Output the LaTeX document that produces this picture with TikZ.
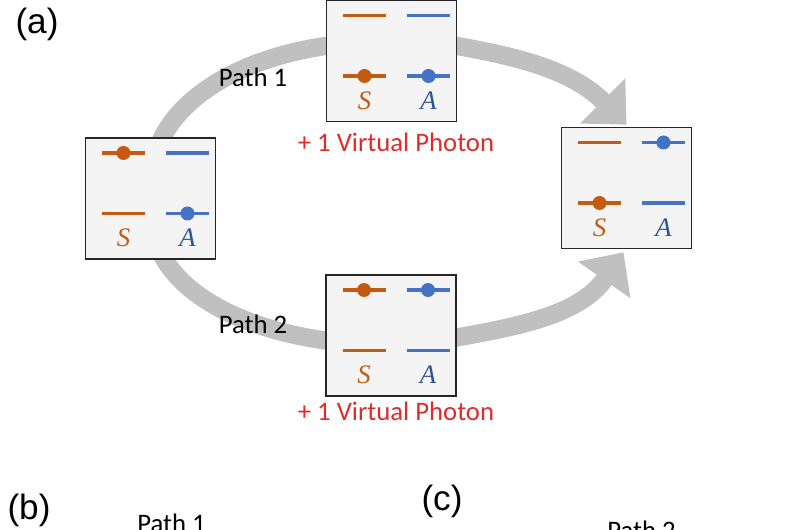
\documentclass[tikz,border=0pt]{standalone}
\usepackage{fontspec}
\setmainfont{Carlito}
\newfontfamily\panelfont{Liberation Sans}
\newfontfamily\labfont{Liberation Serif}
\usetikzlibrary{arrows.meta,calc,backgrounds,positioning}

\definecolor{orng}{HTML}{C55A11}
\definecolor{blu}{HTML}{4472C4}
\definecolor{dkblu}{HTML}{2F5597}
\definecolor{red1}{HTML}{E02B2B}
\definecolor{bandgray}{HTML}{C0C0C0}
\definecolor{boxfill}{HTML}{F4F4F4}

% two levels per qubit, dots mark the occupied ones
\newcommand{\levels}[2]{%
  \foreach \dx/\col in {-27/orng,37/blu}
    \foreach \dy in {45.5,-15}
      \draw[lvl,\col] ($(#1.center)+(\dx-21.5,\dy)$) -- ++(43,0);
  \foreach \dx/\dy/\col in {#2}
    \fill[\col] ($(#1.center)+(\dx,\dy)$) circle (7);
  \node[lbl,text=orng] (#1-S) at ($(#1.center)+(-27,-39.5)$) {S};
  \node[lbl,text=dkblu] (#1-A) at ($(#1.center)+(37,-39.5)$) {A};
}

\begin{document}
\begin{tikzpicture}[x=0.025cm, y=0.025cm,
  box/.style={draw=black!85, fill=boxfill, line width=0.9pt,
    minimum width=3.25cm, minimum height=3.03cm, inner sep=0},
  lvl/.style={line width=2.6pt},
  lbl/.style={font=\labfont\itshape\fontsize{19}{22}\selectfont, inner sep=0},
  txt/.style={font=\fontsize{19}{22}\selectfont, inner sep=0},
  photon/.style={txt, text=red1},
  panel/.style={font=\panelfont\fontsize{25}{30}\selectfont, inner sep=0},
  band/.style={draw=bandgray, line width=13pt,
    -{Triangle[length=24pt,width=44pt]}}]

\useasboundingbox (0,0) rectangle (800,-530);
\clip (0,0) rectangle (800,-530);

\node[box] (start) at (150.5,-198.5) {};
\node[box] (bothdown) at (391.5,-61) {};
\node[box] (bothup) at (391,-335.5) {};
\node[box] (finish) at (626.5,-188) {};

\levels{start}{-27/45.5/orng, 37/-15/blu}
\levels{bothdown}{-27/-15/orng, 37/-15/blu}
\levels{bothup}{-27/45.5/orng, 37/45.5/blu}
\levels{finish}{-27/-15/orng, 37/45.5/blu}

\coordinate (tip1) at ($(finish.north)+(0,2)$);
\coordinate (tip2) at ($(finish.south)+(-3,-3)$);

\begin{scope}[on background layer]
\draw[band] (start.center) to[out=95,in=188] ($(bothdown.west)+(0,15)$)
  -- ($(bothdown.east)+(0,15)$) to[out=-10,in=135] (tip1);
\draw[band] (start.center) to[out=-95,in=172] ($(bothup.west)+(0,-5)$)
  -- ($(bothup.east)+(0,-2)$) to[out=10,in=235] (tip2);
\end{scope}

\node[panel] (pa) at (37,-24) {(a)};
\node[txt] (path1) at (253,-77) {Path 1};
\node[txt] (path2) at (253,-324) {Path 2};
\node[photon] (ph1) at (396,-142) {+ 1 Virtual Photon};
\node[photon] (ph2) at (396,-411) {+ 1 Virtual Photon};

\node[panel] (pb) at (29,-510) {(b)};
\node[panel] (pc) at (442,-501) {(c)};
\node[txt, anchor=north west] (path1b) at (137,-514) {Path 1};
\node[txt, anchor=north west] (path2b) at (607,-521) {Path 2};

\end{tikzpicture}
\end{document}
